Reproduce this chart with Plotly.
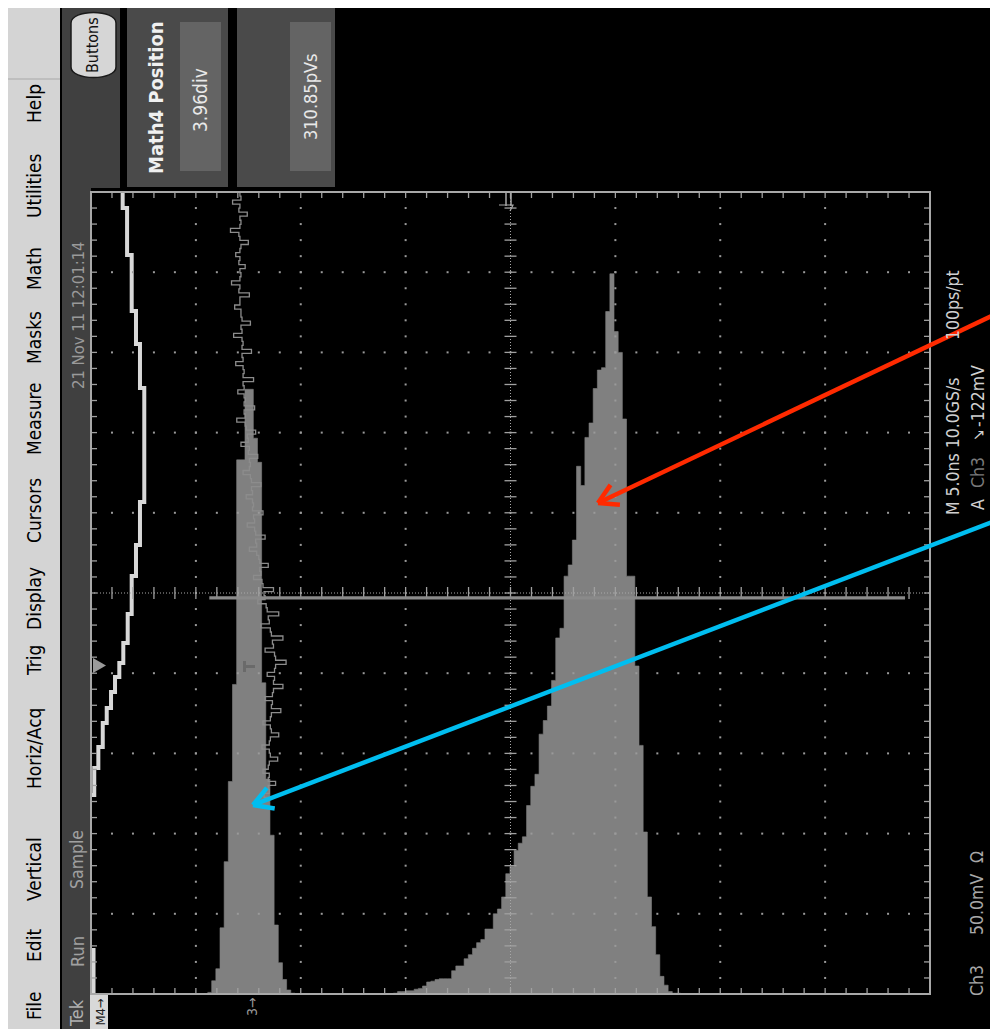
import numpy as np
import plotly.graph_objects as go

# The page places the figure 8 px in from the top-left corner of the window.
OFF = 8
WIN_W, WIN_H = 998, 1029
W, H = WIN_W - OFF, WIN_H - OFF
GX0, GX1, GY0, GY1 = 91, 930, 192, 994   # graticule box, window pixels
NX, NY = 8, 10                            # divisions (image x, image y)

# ---------------- data (division units) ----------------
hist_bin_width = 0.0397
hist_small_start = 1.111
hist_small_counts = [0.02, 0.165, 0.315, 0.825, 1.65, 2.65, 3.86, 6.66, 6.66, 7.54, 7.54,
                     6.93, 6.63, 3.88, 2.68, 1.98, 0.86, 0.39, 0.18, 0.05, 0.01]
hist_big_start = 2.883
hist_big_counts = [0.01, 0.03, 0.03, 0.04, 0.04, 0.06, 0.07, 0.10, 0.15, 0.16, 0.18, 0.19,
                   0.19, 0.19, 0.29, 0.35, 0.35, 0.44, 0.49, 0.57, 0.64, 0.68, 0.81, 0.81,
                   1.00, 1.06, 1.21, 1.50, 1.59, 1.79, 1.88, 1.96, 2.35, 2.59, 2.74, 3.24,
                   3.41, 3.59, 3.91, 4.44, 4.56, 5.21, 5.35, 5.66, 6.58, 6.34, 6.94, 7.12,
                   7.55, 7.78, 7.81, 8.51, 8.98, 8.26, 8.00, 7.17, 5.21, 5.21, 4.09, 3.10,
                   2.02, 1.21, 0.84, 0.49, 0.22, 0.11, 0.03, 0.01, 0.01]

math_wave_time = [0.0, 0.549, 2.481, 2.818, 3.080, 3.379, 3.566, 3.766, 3.953, 4.127, 4.377,
                  4.738, 5.212, 5.599, 6.135, 7.556, 8.105, 8.516, 9.214, 9.800, 10.0]
math_wave_level = [0.024, -0.30, 0.031, 0.070, 0.112, 0.150, 0.191, 0.229, 0.270, 0.308, 0.350,
                   0.388, 0.429, 0.467, 0.508, 0.467, 0.429, 0.388, 0.344, 0.302, 0.302]

ch3_time_span = (10.0, 2.4)
ch3_wave_level = [
    1.42, 1.43, 1.35, 1.42, 1.41, 1.49, 1.42, 1.43, 1.42, 1.33, 1.41, 1.42, 1.50, 1.43, 1.42,
    1.38, 1.42, 1.41, 1.47, 1.42, 1.43, 1.42, 1.34, 1.42, 1.41, 1.51, 1.42, 1.42, 1.37, 1.43,
    1.43, 1.44, 1.52, 1.43, 1.44, 1.36, 1.44, 1.45, 1.44, 1.53, 1.44, 1.45, 1.38, 1.45, 1.46,
    1.45, 1.55, 1.45, 1.46, 1.40, 1.46, 1.47, 1.46, 1.56, 1.46, 1.47, 1.39, 1.47, 1.48, 1.57,
    1.49, 1.50, 1.43, 1.51, 1.50, 1.59, 1.51, 1.52, 1.51, 1.45, 1.52, 1.53, 1.62, 1.53, 1.54,
    1.48, 1.54, 1.55, 1.54, 1.64, 1.55, 1.56, 1.49, 1.56, 1.57, 1.66, 1.57, 1.58, 1.51, 1.58,
    1.60, 1.61, 1.69, 1.61, 1.62, 1.55, 1.63, 1.64, 1.74, 1.65, 1.66, 1.59, 1.67, 1.68, 1.79,
    1.69, 1.70, 1.62, 1.71, 1.72, 1.83, 1.73, 1.74, 1.66, 1.75, 1.76, 1.86, 1.76, 1.75, 1.68,
    1.75, 1.74, 1.83, 1.74, 1.73, 1.66, 1.73, 1.72, 1.81, 1.72, 1.71, 1.64, 1.71, 1.72, 1.79,
    1.71, 1.70, 1.63, 1.70, 1.71, 1.78, 1.70, 1.69, 1.64, 1.70, 1.69, 1.76, 1.69, 1.70, 1.65,
    1.69, 1.69]

cursor_level = 4.938
cursor_extent = (1.128, 7.762)

menu_labels = ["File", "Edit", "Vertical", "Horiz/Acq", "Trig", "Display", "Cursors",
               "Measure", "Masks", "Math", "Utilities", "Help"]
menu_centers = [1006, 946, 869, 749, 661, 599, 511, 419, 338, 269, 186, 104]

# ---------------- helpers ----------------
FONT = "DejaVu Sans Condensed, Liberation Sans Narrow, Liberation Sans, sans-serif"


def px(x):
    return (x - OFF) / W


def py(y):
    return 1 - (y - OFF) / H


shapes = []
annotations = []


def rect(x0, y0, x1, y1, fill, line=None, lw=0, layer="below"):
    shapes.append(dict(type="rect", xref="paper", yref="paper",
                       x0=px(x0), x1=px(x1), y0=py(y1), y1=py(y0),
                       fillcolor=fill, line=dict(color=line or fill, width=lw), layer=layer))


def seg(x0, y0, x1, y1, color, lw, layer="above"):
    shapes.append(dict(type="line", xref="paper", yref="paper",
                       x0=px(x0), x1=px(x1), y0=py(y0), y1=py(y1),
                       line=dict(color=color, width=lw), layer=layer))


def path(pts, fill, line=None, lw=0, layer="above", closed=True):
    s = "M " + " L ".join(f"{px(a):.5f},{py(b):.5f}" for a, b in pts) + (" Z" if closed else "")
    shapes.append(dict(type="path", xref="paper", yref="paper", path=s,
                       fillcolor=fill, line=dict(color=line or fill, width=lw), layer=layer))


def txt(s, x, y, size, color, angle=-90, family=FONT):
    annotations.append(dict(text=s, x=px(x), y=py(y), xref="paper", yref="paper",
                            showarrow=False, textangle=angle, xanchor="center", yanchor="middle",
                            font=dict(family=family, size=size, color=color)))


def arrow(x0, y0, x1, y1, color, lw=4.5, head=22):
    seg(x0, y0, x1, y1, color, lw)
    u = np.array([x0 - x1, y0 - y1], float)
    u /= np.linalg.norm(u)
    for a in (np.pi / 6, -np.pi / 6):
        r = np.array([u[0] * np.cos(a) - u[1] * np.sin(a), u[0] * np.sin(a) + u[1] * np.cos(a)])
        seg(x1, y1, x1 + head * r[0], y1 + head * r[1], color, lw)


# ---------------- figure ----------------
fig = go.Figure()

GRAY = "#808080"


def hist_trace(start, counts):
    edges = start + hist_bin_width * np.arange(len(counts) + 1)
    yv = list(counts) + [counts[-1]]
    return go.Scatter(x=edges, y=yv, mode="lines", line=dict(shape="hv", width=0.6, color=GRAY),
                      fill="tozeroy", fillcolor=GRAY, hoverinfo="skip")


fig.add_trace(hist_trace(hist_small_start, hist_small_counts))
fig.add_trace(hist_trace(hist_big_start, hist_big_counts))

ch3_time = np.linspace(ch3_time_span[0], ch3_time_span[1], len(ch3_wave_level))
fig.add_trace(go.Scatter(x=ch3_wave_level, y=ch3_time, mode="lines",
                         line=dict(shape="vh", width=1.3, color="#8c8c8c"), hoverinfo="skip"))

fig.add_trace(go.Scatter(x=math_wave_level, y=math_wave_time, mode="lines",
                         line=dict(shape="vh", width=4, color="#d8d8d8"), hoverinfo="skip"))

# graticule dots
gx, gy = [], []
for xv in [1, 2, 3, 5, 6, 7]:
    for k in range(1, NY * 5):
        gx.append(xv); gy.append(k * 0.2)
for yv in [1, 2, 3, 4, 6, 7, 8, 9]:
    for k in range(1, NX * 5):
        gx.append(k * 0.2); gy.append(yv)
fig.add_trace(go.Scatter(x=gx, y=gy, mode="markers",
                         marker=dict(symbol="square", size=2, color="#9a9a9a", line=dict(width=0)),
                         hoverinfo="skip"))

# ticks on frame and centre lines
dxt, dyt = 6 / ((GX1 - GX0) / NX), 6 / ((GY1 - GY0) / NY)
tx, ty = [], []
for k in range(1, NY * 5):
    yv = k * 0.2
    tx += [0, dxt, None, NX - dxt, NX, None, NX / 2 - dxt, NX / 2 + dxt, None]
    ty += [yv, yv, None, yv, yv, None, yv, yv, None]
for k in range(1, NX * 5):
    xv = k * 0.2
    tx += [xv, xv, None, xv, xv, None, xv, xv, None]
    ty += [NY, NY - dyt, None, 0, dyt, None, NY / 2 - dyt, NY / 2 + dyt, None]
fig.add_trace(go.Scatter(x=tx, y=ty, mode="lines", line=dict(color="#a0a0a0", width=1.3),
                         hoverinfo="skip"))
fig.add_trace(go.Scatter(x=[NX / 2, NX / 2, None, 0, NX], y=[0, NY, None, NY / 2, NY / 2],
                         mode="lines", line=dict(color="#a8a8a8", width=1, dash="1px,2px"),
                         hoverinfo="skip"))

# cursor bar
fig.add_trace(go.Scatter(x=list(cursor_extent), y=[cursor_level, cursor_level], mode="lines",
                         line=dict(color="#8a8a8a", width=3.3), hoverinfo="skip"))

# ---------------- UI chrome ----------------
rect(8, 0, 60, WIN_H + 5, "#d4d4d4")
seg(8, 79, 60, 79, "#a8a8a8", 1, layer="below")
rect(60, 0, 62, WIN_H + 5, "#000000")
rect(62, 0, 91, WIN_H + 5, "#404040")
rect(62, 0, 120, 188, "#404040")
rect(127, 0, 228, 187, "#4a4a4a")
rect(180, 22, 221, 171, "#646464")
rect(237, 0, 335, 187, "#4a4a4a")
rect(290, 22, 331, 171, "#646464")

# Buttons pill
bx0, bx1, by0, by1, r = 71, 116, 9, 81, 14
pill = (f"M {px(bx0):.5f},{py(by0 + r):.5f} C {px(bx0):.5f},{py(by0):.5f} {px(bx1):.5f},{py(by0):.5f} "
        f"{px(bx1):.5f},{py(by0 + r):.5f} L {px(bx1):.5f},{py(by1 - r):.5f} C {px(bx1):.5f},{py(by1):.5f} "
        f"{px(bx0):.5f},{py(by1):.5f} {px(bx0):.5f},{py(by1 - r):.5f} Z")
shapes.append(dict(type="path", xref="paper", yref="paper", path=pill, fillcolor="#d6d6d6",
                   line=dict(color="#1a1a1a", width=1.5), layer="below"))

# graticule frame
shapes.append(dict(type="rect", xref="paper", yref="paper", x0=px(GX0), x1=px(GX1),
                   y0=py(GY1), y1=py(GY0), line=dict(color="#a8a8a8", width=2),
                   fillcolor="rgba(0,0,0,0)", layer="above"))

# markers
path([(93, 658), (106, 665.5), (93, 673)], "#9a9a9a")
seg(244.5, 661, 244.5, 672, "#6a6a6a", 3)
seg(244, 666.5, 255, 666.5, "#6a6a6a", 3)
seg(506, 193, 506, 206, "#a8a8a8", 1.5)
seg(511, 193, 511, 206, "#a8a8a8", 1.5)
path([(499, 205), (513, 205), (510, 211)], "rgba(0,0,0,0)", "#a8a8a8", 1.2, closed=False)
rect(90, 995, 108, WIN_H + 5, "#d8d8d8", layer="above")
txt("M4→", 99.5, 1012, 13, "#202020")
txt("3→", 252, 1007, 14, "#9a9a9a")

# arrows
arrow(1000, 312, 598, 503, "#ff2a00")
arrow(1000, 519, 253, 805, "#00bef0")

# texts
for lab, yc in zip(menu_labels, menu_centers):
    txt(lab, 34, yc, 19, "#000000")
txt("Buttons", 93, 45, 16, "#111111")
txt("<b>Math4 Position</b>", 156, 98, 20, "#f0f0f0")
txt("3.96div", 200, 100, 19, "#e8e8e8")
txt("310.85pVs", 310, 97, 18, "#e8e8e8")
txt("21 Nov 11 12:01:14", 79, 315, 16.5, "#9a9a9a")
txt("Sample", 77, 860, 17.5, "#a0a0a0")
txt("Run", 77, 952, 18, "#a0a0a0")
txt("Tek", 76, 1013, 18, "#b0b0b0")
txt("100ps/pt", 953, 305, 17.5, "#d0d0d0")
txt("M 5.0ns 10.0GS/s", 953, 446, 17.5, "#d0d0d0")
txt("A", 978, 505, 17.5, "#d0d0d0")
txt("Ch3", 978, 473, 17.5, "#7a7a7a")
txt("↘", 978, 435, 16, "#d0d0d0")
txt("-122mV", 978, 396, 17.5, "#d0d0d0")
txt("Ch3", 977, 981, 17.5, "#a8a8a8")
txt("50.0mV", 977, 905, 17.5, "#a8a8a8")
txt("Ω", 977, 857, 17.5, "#a8a8a8")
txt("Math4   311.4pV   5.0ns", 1003, 905, 17.5, "#a8a8a8")

fig.update_layout(
    width=W, height=H, margin=dict(l=0, r=0, t=0, b=0),
    paper_bgcolor="#000000", plot_bgcolor="rgba(0,0,0,0)",
    showlegend=False, hovermode=False,
    xaxis=dict(domain=[px(GX0), px(GX1)], range=[0, NX], visible=False, fixedrange=True),
    yaxis=dict(domain=[py(GY1), py(GY0)], range=[0, NY], visible=False, fixedrange=True),
    shapes=shapes, annotations=annotations,
)

fig.write_html("out.html")
